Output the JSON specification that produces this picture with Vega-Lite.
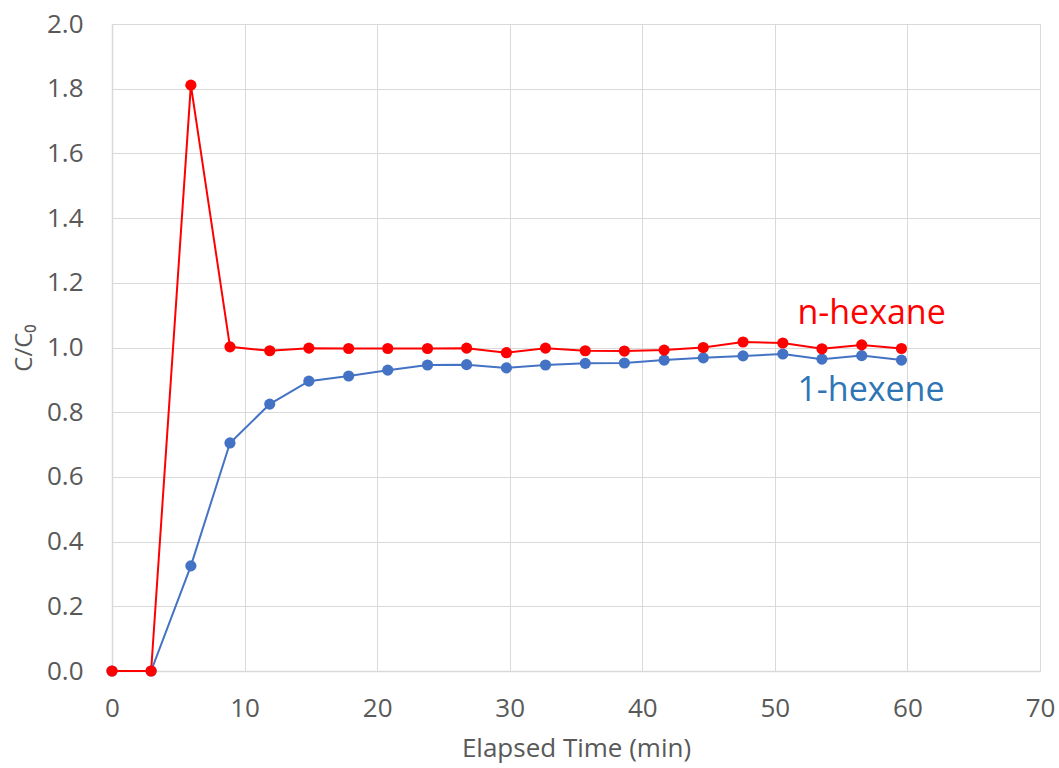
{
  "$schema": "https://vega.github.io/schema/vega-lite/v6.json",
  "width": 928,
  "height": 647,
  "autosize": {"type": "none"},
  "padding": {"left": 112, "top": 24, "right": 19, "bottom": 97},
  "background": "white",
  "config": {
    "font": "Open Sans",
    "view": {"stroke": null},
    "axis": {
      "labelFont": "Open Sans",
      "titleFont": "Open Sans",
      "labelColor": "#595959",
      "titleColor": "#595959",
      "labelFontSize": 26,
      "titleFontSize": 26,
      "titleFontWeight": "normal",
      "gridColor": "#d9d9d9",
      "gridWidth": 1,
      "domainColor": "#d9d9d9",
      "domainWidth": 1.5,
      "ticks": false
    }
  },
  "datasets": {
    "series": [
      {"t": 0, "c": 0, "s": "1-hexene"},
      {"t": 2.95, "c": 0, "s": "1-hexene"},
      {"t": 5.95, "c": 0.325, "s": "1-hexene"},
      {"t": 8.9, "c": 0.705, "s": "1-hexene"},
      {"t": 11.9, "c": 0.825, "s": "1-hexene"},
      {"t": 14.85, "c": 0.896, "s": "1-hexene"},
      {"t": 17.85, "c": 0.912, "s": "1-hexene"},
      {"t": 20.8, "c": 0.93, "s": "1-hexene"},
      {"t": 23.8, "c": 0.946, "s": "1-hexene"},
      {"t": 26.75, "c": 0.947, "s": "1-hexene"},
      {"t": 29.75, "c": 0.937, "s": "1-hexene"},
      {"t": 32.7, "c": 0.946, "s": "1-hexene"},
      {"t": 35.7, "c": 0.951, "s": "1-hexene"},
      {"t": 38.65, "c": 0.952, "s": "1-hexene"},
      {"t": 41.65, "c": 0.961, "s": "1-hexene"},
      {"t": 44.6, "c": 0.968, "s": "1-hexene"},
      {"t": 47.6, "c": 0.974, "s": "1-hexene"},
      {"t": 50.6, "c": 0.98, "s": "1-hexene"},
      {"t": 53.55, "c": 0.964, "s": "1-hexene"},
      {"t": 56.55, "c": 0.975, "s": "1-hexene"},
      {"t": 59.55, "c": 0.961, "s": "1-hexene"},
      {"t": 0, "c": 0, "s": "n-hexane"},
      {"t": 2.95, "c": 0, "s": "n-hexane"},
      {"t": 5.95, "c": 1.811, "s": "n-hexane"},
      {"t": 8.9, "c": 1.002, "s": "n-hexane"},
      {"t": 11.9, "c": 0.99, "s": "n-hexane"},
      {"t": 14.85, "c": 0.998, "s": "n-hexane"},
      {"t": 17.85, "c": 0.997, "s": "n-hexane"},
      {"t": 20.8, "c": 0.997, "s": "n-hexane"},
      {"t": 23.8, "c": 0.997, "s": "n-hexane"},
      {"t": 26.75, "c": 0.998, "s": "n-hexane"},
      {"t": 29.75, "c": 0.984, "s": "n-hexane"},
      {"t": 32.7, "c": 0.998, "s": "n-hexane"},
      {"t": 35.7, "c": 0.99, "s": "n-hexane"},
      {"t": 38.65, "c": 0.989, "s": "n-hexane"},
      {"t": 41.65, "c": 0.992, "s": "n-hexane"},
      {"t": 44.6, "c": 1.0, "s": "n-hexane"},
      {"t": 47.6, "c": 1.017, "s": "n-hexane"},
      {"t": 50.6, "c": 1.014, "s": "n-hexane"},
      {"t": 53.55, "c": 0.996, "s": "n-hexane"},
      {"t": 56.55, "c": 1.008, "s": "n-hexane"},
      {"t": 59.55, "c": 0.997, "s": "n-hexane"}
    ],
    "labels": [
      {"t": 51.7, "c": 1.104, "s": "n-hexane"},
      {"t": 51.7, "c": 0.866, "s": "1-hexene"}
    ]
  },
  "encoding": {
    "x": {
      "field": "t", "type": "quantitative",
      "scale": {"domain": [0, 70], "nice": false, "zero": true},
      "axis": {"values": [0, 10, 20, 30, 40, 50, 60, 70], "format": "d", "title": "Elapsed Time (min)", "labelPadding": 24, "titlePadding": 14, "labelFlush": false}
    },
    "y": {
      "field": "c", "type": "quantitative",
      "scale": {"domain": [0, 2], "nice": false},
      "axis": {"values": [0, 0.2, 0.4, 0.6, 0.8, 1.0, 1.2, 1.4, 1.6, 1.8, 2.0], "format": ".1f", "title": "C/C₀", "titleFontSize": 24, "labelPadding": 29, "titlePadding": 10, "labelFlush": false}
    }
  },
  "layer": [
    {
      "data": {"name": "series"},
      "transform": [{"filter": "datum.s === '1-hexene'"}],
      "mark": {"type": "line", "color": "#4472C4", "strokeWidth": 2},
      "encoding": {}
    },
    {
      "data": {"name": "series"},
      "transform": [{"filter": "datum.s === '1-hexene'"}],
      "mark": {"type": "point", "filled": true, "opacity": 1, "color": "#4472C4", "size": 125},
      "encoding": {}
    },
    {
      "data": {"name": "series"},
      "transform": [{"filter": "datum.s === 'n-hexane'"}],
      "mark": {"type": "line", "color": "#FF0000", "strokeWidth": 2},
      "encoding": {}
    },
    {
      "data": {"name": "series"},
      "transform": [{"filter": "datum.s === 'n-hexane'"}],
      "mark": {"type": "point", "filled": true, "opacity": 1, "color": "#FF0000", "size": 125},
      "encoding": {}
    },
    {
      "data": {"name": "labels"},
      "mark": {"type": "text", "align": "left", "baseline": "middle", "fontSize": 34, "font": "Open Sans"},
      "encoding": {
        "text": {"field": "s"},
        "color": {"field": "s", "type": "nominal", "scale": {"domain": ["n-hexane", "1-hexene"], "range": ["#FF0000", "#2E75B6"]}, "legend": null}
      }
    }
  ]
}
